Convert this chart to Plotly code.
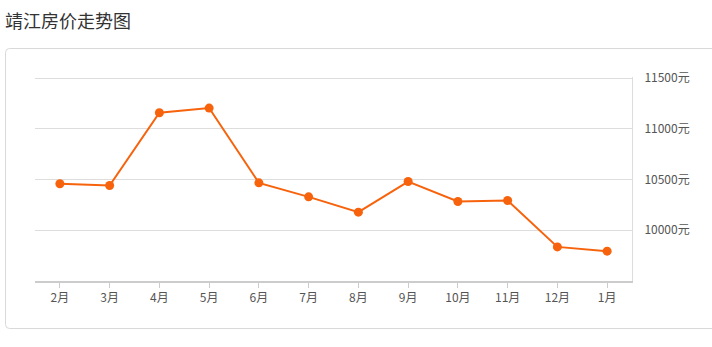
import plotly.graph_objects as go

months = ["2月", "3月", "4月", "5月", "6月", "7月", "8月", "9月", "10月", "11月", "12月", "1月"]
prices = [10458, 10441, 11158, 11204, 10467, 10329, 10178, 10480, 10283, 10293, 9836, 9794]
y_ticks = [10000, 10500, 11000, 11500]
y_tick_labels = [f"{v}元" for v in y_ticks]

FONT = "Noto Sans CJK SC, Microsoft YaHei, sans-serif"
ORANGE = "#F7630C"

W, H = 712, 347
ML, MR, MT, MB = 35, 80, 77, 66

fig = go.Figure()
fig.add_trace(go.Scatter(
    x=months, y=prices, mode="lines+markers",
    line=dict(color=ORANGE, width=2),
    marker=dict(color=ORANGE, size=9),
    cliponaxis=False,
    hoverinfo="x+y",
))

fig.update_layout(
    width=W, height=H,
    margin=dict(l=ML, r=MR, t=MT, b=MB),
    paper_bgcolor="white", plot_bgcolor="white",
    showlegend=False,
    font=dict(family=FONT, size=12, color="#555"),
    xaxis=dict(
        type="category", range=[-0.5, 11.5],
        showline=True, linecolor="#cccccc", linewidth=2,
        ticks="outside", ticklen=5, tickcolor="#cccccc", tickwidth=1,
        showgrid=False, zeroline=False,
        tickfont=dict(family=FONT, size=12, color="#555"),
        fixedrange=True,
    ),
    yaxis=dict(
        side="right", range=[9500, 11510],
        tickvals=y_ticks, ticktext=y_tick_labels,
        showgrid=True, gridcolor="#dddddd", gridwidth=1,
        showline=True, linecolor="#dddddd", linewidth=1,
        ticks="", ticklabelstandoff=9,
        zeroline=False,
        tickfont=dict(family=FONT, size=12, color="#555"),
        fixedrange=True,
    ),
)

pw, ph = W - ML - MR, H - MT - MB
def px(x):
    return (x - ML) / pw
def py(y):
    return (H - MB - y) / ph

r = 4
x0, x1, y0, y1 = 5.5, 716, 48.5, 328.5
path = (f"M {px(x0 + r)},{py(y0)} L {px(x1)},{py(y0)} "
        f"M {px(x1)},{py(y1)} L {px(x0 + r)},{py(y1)} "
        f"Q {px(x0)},{py(y1)} {px(x0)},{py(y1 - r)} "
        f"L {px(x0)},{py(y0 + r)} Q {px(x0)},{py(y0)} {px(x0 + r)},{py(y0)}")
fig.add_shape(type="path", xref="paper", yref="paper", path=path,
              line=dict(color="#d9d9d9", width=1), layer="below")

fig.add_annotation(
    text="靖江房价走势图", xref="paper", yref="paper",
    x=px(3), y=py(20), xanchor="left", yanchor="middle",
    showarrow=False,
    font=dict(family=FONT, size=18, color="#333"),
)

fig.write_html("out.html")
